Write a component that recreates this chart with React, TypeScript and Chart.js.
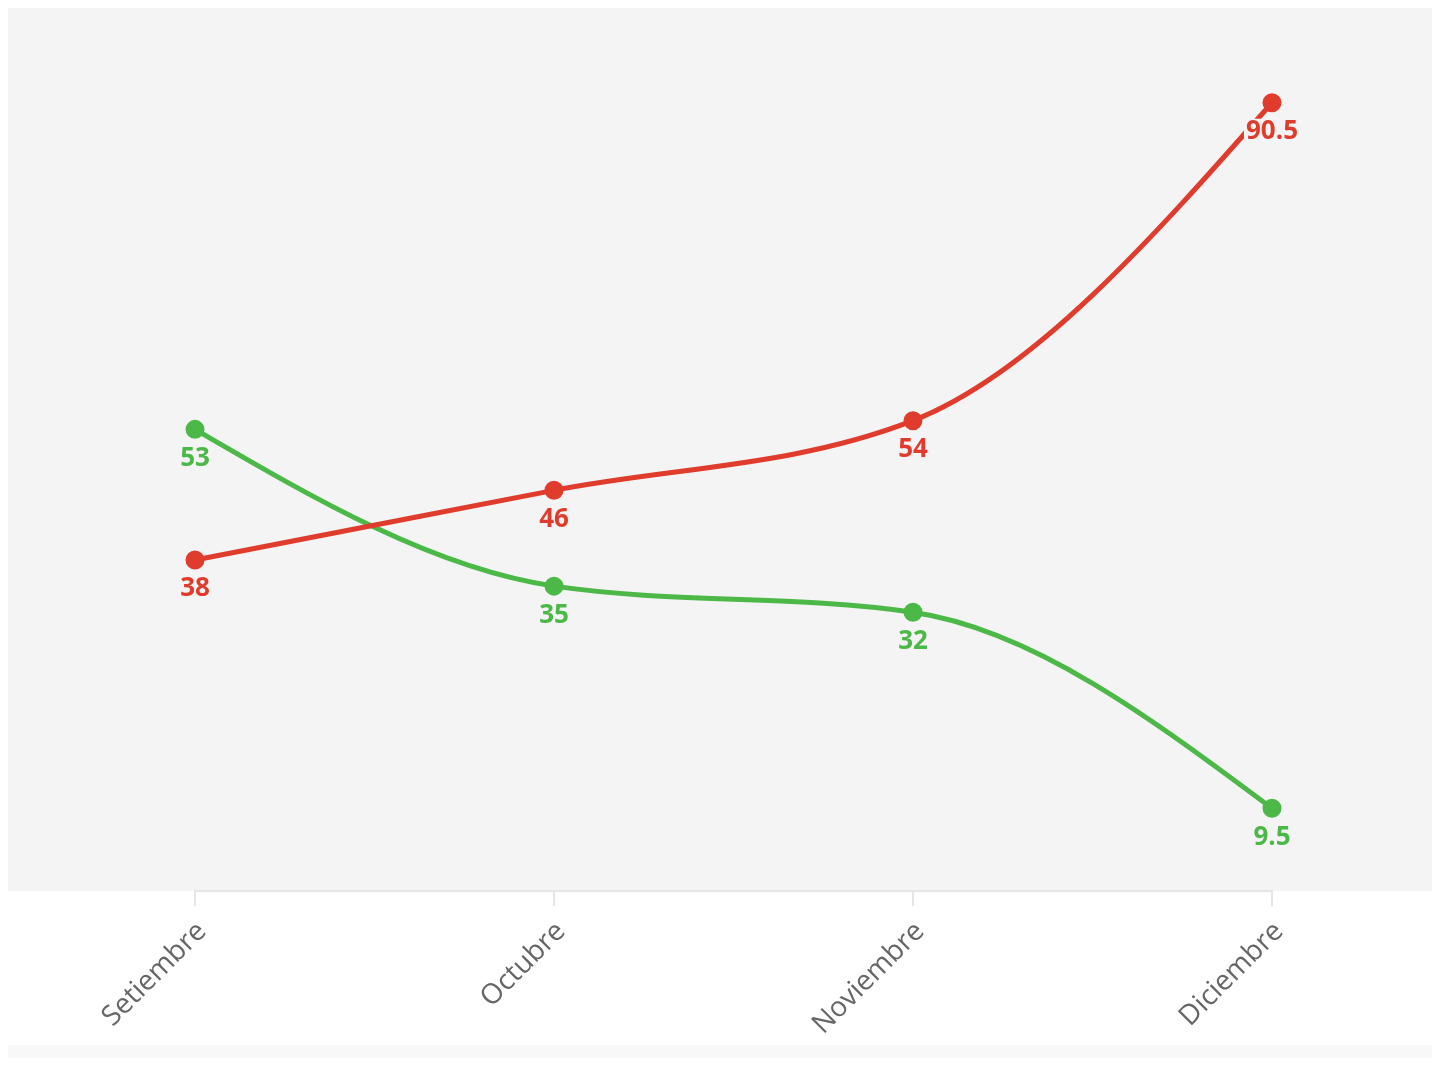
import React, { useEffect, useRef } from "react";
import { Chart, registerables } from "chart.js";

Chart.register(...registerables);

const categories = ["Setiembre", "Octubre", "Noviembre", "Diciembre"];
const redValues = [38, 46, 54, 90.5];
const greenValues = [53, 35, 32, 9.5];
const redColor = "#e03c2d";
const greenColor = "#4cb848";

// Monotone-X (Steffen) control points computed from the points' pixel positions given by the scales.
function setMonotoneControlPoints(points: any[]) {
  const n = points.length;
  if (n < 2) return;
  const m: number[] = new Array(n).fill(0);
  const sign = (v: number) => (v < 0 ? -1 : 1);
  for (let i = 1; i < n - 1; i++) {
    const h0 = points[i].x - points[i - 1].x;
    const h1 = points[i + 1].x - points[i].x;
    const s0 = (points[i].y - points[i - 1].y) / h0;
    const s1 = (points[i + 1].y - points[i].y) / h1;
    const p = (s0 * h1 + s1 * h0) / (h0 + h1);
    m[i] = (sign(s0) + sign(s1)) * Math.min(Math.abs(s0), Math.abs(s1), 0.5 * Math.abs(p)) || 0;
  }
  if (n === 2) {
    const s = (points[1].y - points[0].y) / (points[1].x - points[0].x);
    m[0] = s;
    m[1] = s;
  } else {
    const c0 = (points[1].y - points[0].y) / (points[1].x - points[0].x);
    m[0] = (3 * c0 - m[1]) / 2;
    const cn = (points[n - 1].y - points[n - 2].y) / (points[n - 1].x - points[n - 2].x);
    m[n - 1] = (3 * cn - m[n - 2]) / 2;
  }
  for (let i = 0; i < n; i++) {
    const pt = points[i];
    const dxPrev = i > 0 ? (pt.x - points[i - 1].x) / 3 : 0;
    const dxNext = i < n - 1 ? (points[i + 1].x - pt.x) / 3 : 0;
    pt.cp1x = pt.x - dxPrev;
    pt.cp1y = pt.y - dxPrev * m[i];
    pt.cp2x = pt.x + dxNext;
    pt.cp2y = pt.y + dxNext * m[i];
  }
}

const curvePlugin = {
  id: "curvePlugin",
  beforeDatasetDraw(chart: any, args: any) {
    const meta = args.meta;
    const line = meta.dataset;
    if (!line) return;
    setMonotoneControlPoints(meta.data);
    line._pointsUpdated = true;
    line.updateControlPoints = () => {};
  },
};

const bgPlugin = {
  id: "bgPlugin",
  beforeDraw(chart: any) {
    const { ctx, chartArea, width, height } = chart;
    ctx.save();
    ctx.fillStyle = "#f4f4f4";
    ctx.fillRect(0, 0, width, chartArea.bottom);
    ctx.fillStyle = "#f8f8f8";
    ctx.fillRect(0, 1037, width, height - 1037);
    ctx.restore();
  },
};

const labelPlugin = {
  id: "labelPlugin",
  afterDatasetsDraw(chart: any) {
    const { ctx } = chart;
    ctx.save();
    ctx.font = "bold 26px 'Open Sans'";
    ctx.textAlign = "center";
    ctx.textBaseline = "middle";
    chart.data.datasets.forEach((ds: any, i: number) => {
      const meta = chart.getDatasetMeta(i);
      meta.data.forEach((pt: any, j: number) => {
        const text = String(ds.data[j]);
        const x = pt.x;
        const y = pt.y + 29;
        const w = ctx.measureText(text).width;
        ctx.fillStyle = "#f4f4f4";
        ctx.fillRect(x - w / 2 - 2, y - 13, w + 4, 26);
        ctx.fillStyle = ds.borderColor;
        ctx.fillText(text, x, y);
      });
    });
    ctx.restore();
  },
};

export default function App() {
  const ref = useRef<HTMLCanvasElement>(null);
  useEffect(() => {
    if (!ref.current) return;
    Chart.defaults.font.family = "'Open Sans'";
    const chart = new Chart(ref.current, {
      type: "line",
      data: {
        labels: categories,
        datasets: [
          {
            label: "Rojo",
            data: redValues,
            borderColor: redColor,
            backgroundColor: redColor,
            borderWidth: 5,
            pointRadius: 7,
            pointHoverRadius: 7,
            cubicInterpolationMode: "monotone",
            fill: false,
          },
          {
            label: "Verde",
            data: greenValues,
            borderColor: greenColor,
            backgroundColor: greenColor,
            borderWidth: 5,
            pointRadius: 7,
            pointHoverRadius: 7,
            cubicInterpolationMode: "monotone",
            fill: false,
          },
        ],
      },
      options: {
        animation: false,
        responsive: false,
        maintainAspectRatio: false,
        layout: { padding: { left: 187, right: 168, top: 5, bottom: 0 } },
        plugins: { legend: { display: false }, tooltip: { enabled: false } },
        scales: {
          y: { display: false, min: 0, max: 100 },
          x: {
            offset: false,
            border: { display: true, color: "#e6e6e6", width: 2 },
            grid: { drawOnChartArea: false, drawTicks: true, tickLength: 15, color: "#e6e6e6", lineWidth: 2 },
            ticks: {
              color: "#666",
              font: { size: 28, family: "'Open Sans'" },
              minRotation: 45,
              maxRotation: 45,
              padding: 9,
              labelOffset: 7,
            },
            afterFit: (scale: any) => {
              scale.height = 167;
            },
          },
        },
      },
      plugins: [bgPlugin, curvePlugin, labelPlugin],
    });
    return () => chart.destroy();
  }, []);
  return (
    <div style={{ width: 1432, height: 1050 }}>
      <canvas ref={ref} width={1432} height={1050} style={{ display: "block", width: 1432, height: 1050 }} />
    </div>
  );
}
